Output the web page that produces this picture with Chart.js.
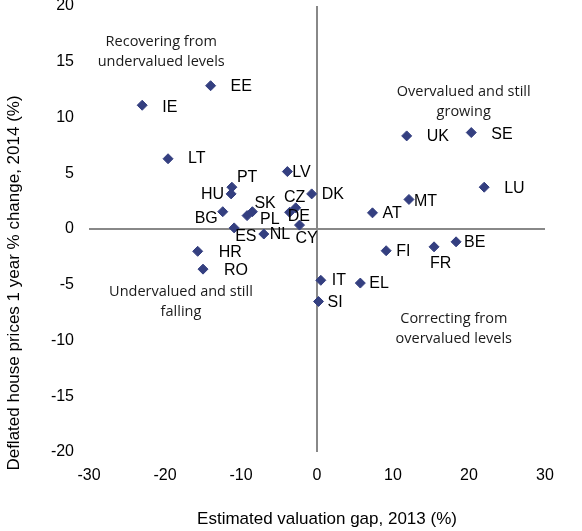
<!DOCTYPE html>
<html>
<head>
<meta charset="utf-8">
<script src="https://cdn.jsdelivr.net/npm/chart.js@4.4.1/dist/chart.umd.min.js"></script>
<style>
  html, body { margin: 0; padding: 0; background: #fff; }
  #wrap { width: 582px; height: 531px; }
</style>
</head>
<body>
<div id="wrap"><canvas id="chart" width="582" height="531"></canvas></div>
<script>
// Countries and values
const countries = ['EE', 'IE', 'LT', 'LV', 'PT', 'HU', 'DK', 'CZ', 'DE', 'BG', 'SK', 'PL', 'ES', 'NL',
  'CY', 'HR', 'RO', 'IT', 'SI', 'EL', 'UK', 'SE', 'LU', 'MT', 'AT', 'FI', 'FR', 'BE'];
const valuationGap = [-14.0, -23.0, -19.6, -3.9, -11.2, -11.3, -0.7, -2.8, -3.6, -12.4, -8.5, -9.2, -10.9, -7.0,
  -2.3, -15.7, -15.0, 0.5, 0.2, 5.7, 11.8, 20.3, 22.0, 12.1, 7.3, 9.1, 15.4, 18.3];
const priceChange = [12.85, 11.1, 6.3, 5.15, 3.75, 3.15, 3.15, 1.9, 1.5, 1.55, 1.55, 1.2, 0.1, -0.45,
  0.35, -2.0, -3.6, -4.6, -6.5, -4.85, 8.35, 8.65, 3.75, 2.65, 1.45, -1.95, -1.6, -1.15];

// Axis ticks
const xTicks = [-30, -20, -10, 0, 10, 20, 30];
const yTicks = [-20, -15, -10, -5, 0, 5, 10, 15, 20];

// Quadrant notes
const quadrantNotes = [
  ['Recovering from', 'undervalued levels'],
  ['Overvalued and still', 'growing'],
  ['Undervalued and still', 'falling'],
  ['Correcting from', 'overvalued levels']
];
const quadrantAnchors = [[-20.5, 15.9], [19.3, 11.4], [-17.9, -6.55], [18.0, -8.95]];

// Where each country label sits relative to its diamond: [dx, dy, align]
const labelOffset = {
  EE: [20, 1, 'left'], IE: [20, 2, 'left'], LT: [20, 0, 'left'], LV: [5, 1, 'left'],
  PT: [5, -10, 'left'], HU: [-7, 1, 'right'], DK: [10, 1, 'left'], CZ: [-1, -10, 'center'],
  DE: [-2, 4, 'left'], BG: [-5, 7, 'right'], SK: [2, -8, 'left'], PL: [13, 4, 'left'],
  ES: [1, 9, 'left'], NL: [6, 1, 'left'], CY: [-4, 13, 'left'], HR: [21, 1, 'left'],
  RO: [21, 1, 'left'], IT: [11, 0, 'left'], SI: [9, 1, 'left'], EL: [9, 1, 'left'],
  UK: [20, 1, 'left'], SE: [20, 2, 'left'], LU: [20, 1, 'left'], MT: [5, 2, 'left'],
  AT: [10, 1, 'left'], FI: [10, 1, 'left'], FR: [-4, 17, 'left'], BE: [8, 1, 'left']
};

const FONT = "'Liberation Sans', Arial, sans-serif";
const NOTE_FONT = "'Open Sans', 'Noto Sans', sans-serif";
const AXIS_GREY = '#888888';

// Draws the country labels, the quadrant notes and both axis titles
const textPlugin = {
  id: 'textPlugin',
  afterDatasetsDraw(chart) {
    const ctx = chart.ctx;
    const xs = chart.scales.x;
    const ys = chart.scales.y;
    const meta = chart.getDatasetMeta(0);

    ctx.save();
    ctx.fillStyle = '#000';
    ctx.textBaseline = 'middle';
    ctx.font = '16px ' + FONT;
    meta.data.forEach((pt, i) => {
      const off = labelOffset[countries[i]] || [8, 0, 'left'];
      ctx.textAlign = off[2];
      ctx.fillText(countries[i], pt.x + off[0], pt.y + off[1]);
    });

    ctx.fillStyle = '#1a1a1a';
    ctx.textAlign = 'center';
    ctx.font = '14.5px ' + NOTE_FONT;
    quadrantNotes.forEach((lines, i) => {
      const cx = xs.getPixelForValue(quadrantAnchors[i][0]);
      const cy = ys.getPixelForValue(quadrantAnchors[i][1]);
      lines.forEach((line, j) => {
        ctx.fillText(line, cx, cy + (j - (lines.length - 1) / 2) * 20.5);
      });
    });

    ctx.fillStyle = '#000';
    ctx.font = '17px ' + FONT;
    ctx.fillText('Estimated valuation gap, 2013 (%)', 327, 519);
    ctx.translate(14, 283);
    ctx.rotate(-Math.PI / 2);
    ctx.fillText('Deflated house prices 1 year % change, 2014 (%)', 0, 0);
    ctx.restore();
  }
};

const zeroLine = (c) => (c.tick && c.tick.value === 0 ? AXIS_GREY : 'rgba(0,0,0,0)');

new Chart(document.getElementById('chart'), {
  type: 'scatter',
  data: {
    datasets: [{
      label: 'Countries',
      data: countries.map((c, i) => ({ x: valuationGap[i], y: priceChange[i] })),
      pointStyle: 'rectRot',
      pointRadius: 5,
      pointHoverRadius: 5,
      backgroundColor: '#343f80',
      borderColor: '#343f80',
      borderWidth: 1
    }]
  },
  options: {
    responsive: false,
    animation: false,
    events: [],
    layout: { padding: { left: 0, right: 37, top: 6, bottom: 0 } },
    plugins: {
      legend: { display: false },
      tooltip: { enabled: false }
    },
    scales: {
      x: {
        type: 'linear',
        min: -30,
        max: 30,
        afterBuildTicks: (s) => { s.ticks = xTicks.map(v => ({ value: v })); },
        afterFit: (s) => { s.height = 79; s.paddingLeft = 0; s.paddingRight = 0; },
        border: { display: false },
        grid: { color: zeroLine, lineWidth: 2, drawTicks: false },
        ticks: { color: '#000', padding: 14, font: { family: FONT, size: 16 } }
      },
      y: {
        type: 'linear',
        min: -20,
        max: 20,
        afterBuildTicks: (s) => { s.ticks = yTicks.map(v => ({ value: v })); },
        afterFit: (s) => { s.width = 89; s.paddingTop = 0; s.paddingBottom = 0; },
        border: { display: false },
        grid: { color: zeroLine, lineWidth: 2, drawTicks: false },
        ticks: { color: '#000', padding: 15, font: { family: FONT, size: 16 } }
      }
    }
  },
  plugins: [textPlugin]
});
</script>
</body>
</html>
